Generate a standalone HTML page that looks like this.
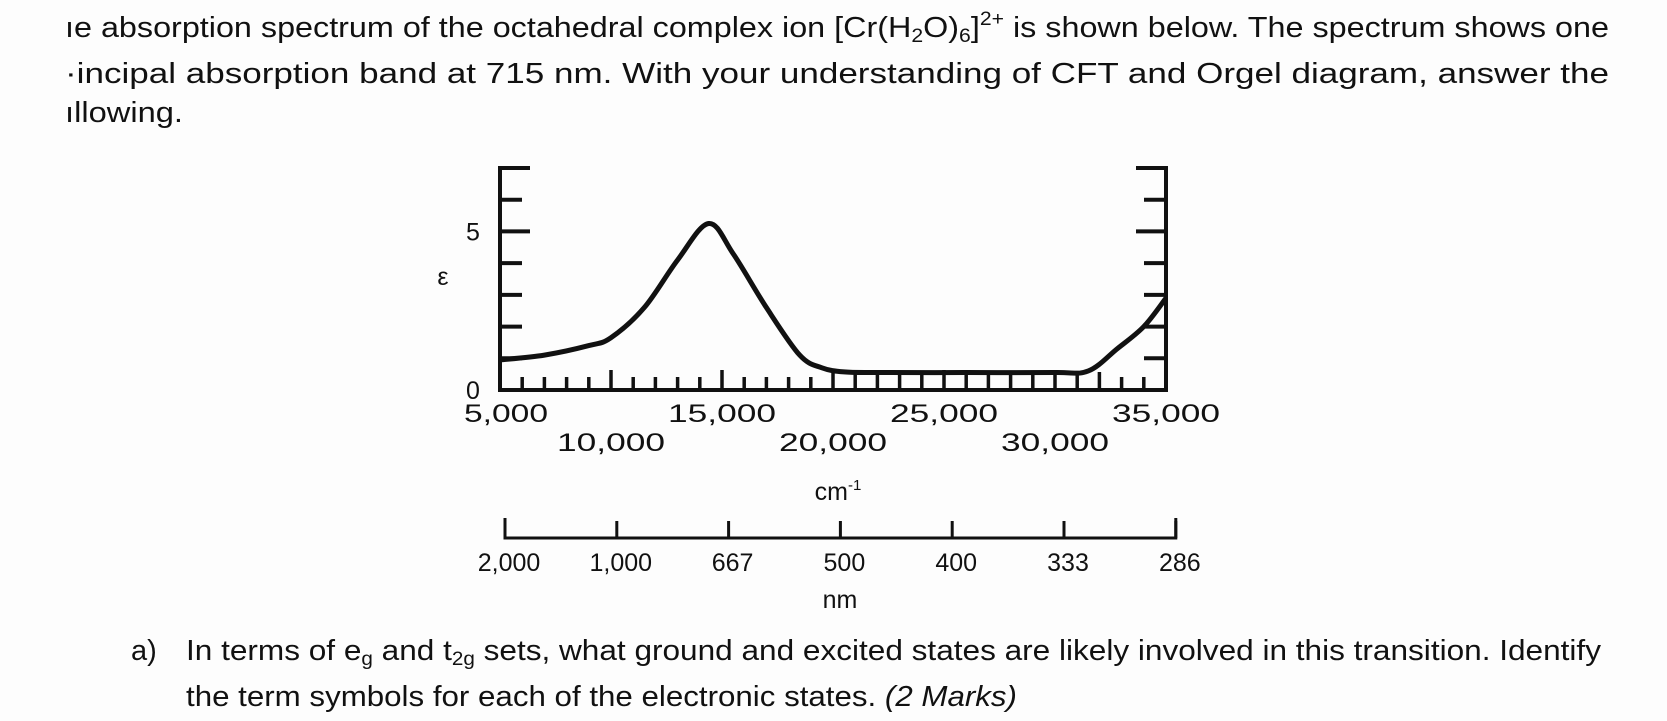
<!DOCTYPE html>
<html><head><meta charset="utf-8"><style>
html,body{margin:0;padding:0;background:#fff;}
svg{display:block;}
.q{font-family:"Liberation Sans",sans-serif;font-size:29px;fill:#111;}
.t{font-family:"Liberation Sans",sans-serif;font-size:25px;fill:#111;}
</style></head><body>
<svg id="c" width="1667" height="721" viewBox="0 0 1667 721" xmlns="http://www.w3.org/2000/svg">
<rect width="1667" height="721" fill="#fdfdfd"/>
<g>
<text class="q" x="65" y="37" textLength="1544" lengthAdjust="spacingAndGlyphs">ıe absorption spectrum of the octahedral complex ion [Cr(H<tspan font-size="19" dy="5">2</tspan><tspan dy="-5">O)</tspan><tspan font-size="19" dy="5">6</tspan><tspan dy="-5">]</tspan><tspan font-size="19" dy="-12">2+</tspan><tspan dy="12"> is shown below. The spectrum shows one</tspan></text>
<text class="q" x="65" y="83" textLength="1544" lengthAdjust="spacingAndGlyphs">·incipal absorption band at 715 nm. With your understanding of CFT and Orgel diagram, answer the</text>
<text class="q" x="65" y="122" textLength="118" lengthAdjust="spacingAndGlyphs">ıllowing.</text>
</g>
<g id="chart"></g>
<g>
<text class="q" x="131" y="660">a)</text>
<text class="q" x="186" y="660" textLength="1415" lengthAdjust="spacingAndGlyphs">In terms of e<tspan font-size="19" dy="5">g</tspan><tspan dy="-5"> and t</tspan><tspan font-size="19" dy="5">2g</tspan><tspan dy="-5"> sets, what ground and excited states are likely involved in this transition. Identify</tspan></text>
<text class="q" x="186" y="706" textLength="831" lengthAdjust="spacingAndGlyphs">the term symbols for each of the electronic states. <tspan font-style="italic">(2 Marks)</tspan></text>
</g>
</svg>
<script>
const wavenumbers=[5000,7000,9000,10000,11500,13000,14400,15500,17000,18500,19500,20500,22000,26000,30000,31500,32800,34000,35000];
const epsilon=[0.95,1.1,1.4,1.65,2.6,4.1,5.25,4.3,2.6,1.1,0.7,0.57,0.55,0.55,0.55,0.6,1.3,2.0,2.9];
const majorTicks=["5,000","10,000","15,000","20,000","25,000","30,000","35,000"];
const majorVals=[5000,10000,15000,20000,25000,30000,35000];
const nmLabels=["2,000","1,000","667","500","400","333","286"];
const nmVals=[2000,1000,667,500,400,333,286];
const yLabels=["0","5"];
const yVals=[0,5];
const NS="http://www.w3.org/2000/svg";
const g=document.getElementById('chart');
const X0=500,X1=1166,Y0=390,Y1=168;
const xs=v=>X0+(v-5000)/30000*(X1-X0);
const ys=v=>Y0-v*(Y0-Y1)/7;
function mk(tag,attrs){const e=document.createElementNS(NS,tag);for(const k in attrs)e.setAttribute(k,attrs[k]);g.appendChild(e);return e;}
let e;
e=mk('path',{d:`M${X0+30},${Y1} H${X0} V${Y0} H${X1} V${Y1} H${X1-30}`,fill:'none',stroke:'#111','stroke-width':4});


for(let i=1;i<=7;i++){
 const len=(i===5)?30:22;
 e=mk('line',{x1:X0,x2:X0+len,y1:ys(i),y2:ys(i),stroke:'#111','stroke-width':4});
 
 
 e=mk('line',{x1:X1,x2:X1-len,y1:ys(i),y2:ys(i),stroke:'#111','stroke-width':4});
 
 
}
for(let w=6000;w<35000;w+=1000){
 const len=(w%5000===0)?20:(w>=21000&&w<=32000?18:13);
 e=mk('line',{x1:xs(w),x2:xs(w),y1:Y0,y2:Y0-len,stroke:'#111','stroke-width':3.5});
 
 
}
let d='';
const pts=wavenumbers.map((w,i)=>[xs(w),ys(epsilon[i])]);
d='M'+pts[0][0]+','+pts[0][1];
for(let i=0;i<pts.length-1;i++){
 const p0=pts[Math.max(0,i-1)],p1=pts[i],p2=pts[i+1],p3=pts[Math.min(pts.length-1,i+2)];
 const c1x=p1[0]+(p2[0]-p0[0])/6,c1y=p1[1]+(p2[1]-p0[1])/6,c2x=p2[0]-(p3[0]-p1[0])/6,c2y=p2[1]-(p3[1]-p1[1])/6;
 d+=` C${c1x},${c1y} ${c2x},${c2y} ${p2[0]},${p2[1]}`;
}
e=mk('path',{d:d,fill:'none',stroke:'#111','stroke-width':5,'stroke-linejoin':'round'});


yVals.forEach((v,i)=>{
 e=mk('text',{x:473,y:ys(v)+9,'text-anchor':'middle',class:'t'});
 e.textContent=yLabels[i];
 
 
});
e=mk('text',{x:443,y:285,'text-anchor':'middle',class:'t','font-size':32});
e.textContent='ε';


majorVals.forEach((v,i)=>{
 e=mk('text',{x:xs(v)+(i===0?6:0),y:(i%2===0)?422:451,'text-anchor':'middle',class:'t',textLength:(i===0?84:108),lengthAdjust:'spacingAndGlyphs'});
 e.textContent=majorTicks[i];
 
 
});
e=mk('text',{x:838,y:500,'text-anchor':'middle',class:'t'});
e.innerHTML='cm<tspan font-size="15" dy="-10">-1</tspan>';


const N0=505,NStep=111.8;
e=mk('path',{d:`M${N0},${518} V538 H${N0+6*NStep} V518`,fill:'none',stroke:'#111','stroke-width':3});


nmVals.forEach((v,i)=>{
 const x=N0+i*NStep;
 e=mk('line',{x1:x,x2:x,y1:538,y2:521,stroke:'#111','stroke-width':3});
 
 
 e=mk('text',{x:x+4,y:571,'text-anchor':'middle',class:'t'});
 e.textContent=nmLabels[i];
 
 
});
e=mk('text',{x:840,y:608,'text-anchor':'middle',class:'t'});
e.textContent='nm';


</script>
</body></html>
